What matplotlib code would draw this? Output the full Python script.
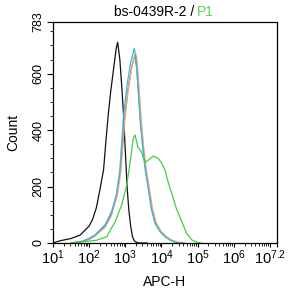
import numpy as np
import matplotlib.pyplot as plt
from matplotlib.ticker import FixedLocator, LogLocator, NullFormatter

plt.rcParams['font.family'] = ['Liberation Sans', 'DejaVu Sans']
plt.rcParams['mathtext.fontset'] = 'custom'
plt.rcParams['mathtext.rm'] = 'Liberation Sans'
plt.rcParams['mathtext.it'] = 'Liberation Sans'

# histogram outlines, x as log10(APC-H), y as count
black_x = [1.0, 1.2, 1.5, 1.75, 2.0, 2.1, 2.2, 2.3, 2.4, 2.47, 2.53, 2.6, 2.7, 2.75, 2.79,
           2.85, 2.9, 2.95, 3.0, 3.05, 3.1, 3.15, 3.2, 3.25, 3.3, 3.4, 3.6]
black_y = [0, 8, 16, 28, 60, 85, 125, 190, 260, 370, 455, 540, 640, 690, 711,
           650, 560, 460, 330, 200, 115, 60, 22, 8, 3, 0, 0]

blue_x = [1.5, 1.8, 2.0, 2.16, 2.44, 2.62, 2.76, 2.85, 2.95, 3.05, 3.15, 3.22, 3.25,
          3.3, 3.35, 3.41, 3.48, 3.55, 3.64, 3.72, 3.82, 3.96, 4.1, 4.24, 4.4, 4.6]
blue_y = [0, 5, 15, 28, 60, 105, 175, 260, 450, 560, 640, 675, 690,
          650, 560, 440, 340, 260, 190, 120, 70, 40, 22, 10, 2, 0]

orange_x = [1.5, 1.8, 2.0, 2.16, 2.44, 2.62, 2.78, 2.88, 2.99, 3.09, 3.19, 3.25, 3.29,
            3.33, 3.38, 3.44, 3.51, 3.58, 3.67, 3.75, 3.85, 3.99, 4.13, 4.27, 4.45, 4.65]
orange_y = [0, 4, 12, 24, 55, 98, 168, 255, 440, 550, 630, 662, 672,
            640, 555, 440, 340, 262, 192, 125, 74, 42, 24, 11, 3, 0]

gray_x = [1.5, 1.8, 2.0, 2.16, 2.44, 2.62, 2.76, 2.86, 2.97, 3.07, 3.17, 3.23, 3.27,
          3.31, 3.36, 3.42, 3.5, 3.57, 3.66, 3.74, 3.84, 3.98, 4.12, 4.26, 4.42, 4.62]
gray_y = [0, 6, 16, 28, 64, 111, 170, 250, 430, 540, 620, 650, 660,
          625, 545, 430, 330, 255, 185, 118, 70, 40, 22, 10, 2, 0]

green_x = [1.5, 1.9, 2.21, 2.49, 2.55, 2.72, 2.9, 3.04, 3.15, 3.22, 3.27, 3.35, 3.45,
           3.55, 3.65, 3.78, 3.91, 4.0, 4.1, 4.2, 4.3, 4.42, 4.55, 4.7, 4.85, 5.0, 5.1]
green_y = [0, 5, 10, 22, 38, 75, 135, 205, 300, 370, 383, 340, 322,
           285, 295, 308, 300, 285, 259, 210, 170, 120, 80, 34, 10, 2, 0]

x_decades = [1, 2, 3, 4, 5, 6, 7]
x_labels = ['1', '2', '3', '4', '5', '6', '7.2']
y_ticks = [0, 200, 400, 600, 783]

title_left = 'bs-0439R-2 /'
title_right = 'P1'

fig = plt.figure(figsize=(2.9, 2.96), dpi=100)
ax = fig.add_axes([53 / 290, 53 / 296, 224 / 290, 221 / 296])

ax.plot(10 ** np.array(black_x), black_y, color='#111111', lw=0.9)
ax.plot(10 ** np.array(gray_x), gray_y, color='#8a8a8a', lw=0.9)
ax.plot(10 ** np.array(orange_x), orange_y, color='#e8a47a', lw=0.9)
ax.plot(10 ** np.array(blue_x), blue_y, color='#3cb8dc', lw=0.9)
ax.plot(10 ** np.array(green_x), green_y, color='#44cc44', lw=0.9)

ax.set_xscale('log')
ax.set_xlim(10, 10 ** 7.2)
ax.set_ylim(0, 783)

ax.xaxis.set_major_locator(FixedLocator([10 ** v for v in x_decades] + [10 ** 7.2]))
ax.set_xticklabels(['$10^{%s}$' % s for s in x_labels] + [''])
ax.xaxis.set_minor_locator(LogLocator(base=10, subs=np.arange(2, 10), numticks=20))
ax.xaxis.set_minor_formatter(NullFormatter())

ax.set_yticks(y_ticks)
ax.set_yticks(np.arange(50, 783, 50), minor=True)
ax.set_yticklabels([str(v) for v in y_ticks], rotation=90, va='center')

ax.tick_params(which='major', direction='out', length=4, width=0.8, labelsize=9, pad=2)
ax.tick_params(axis='x', which='major', length=3, labelsize=10.5, pad=1)
ax.tick_params(which='minor', direction='out', length=2, width=0.6)
for s in ax.spines.values():
    s.set_linewidth(0.9)

ax.set_xlabel('APC-H', fontsize=10, labelpad=6)
ax.set_ylabel('Count', fontsize=10, labelpad=9)

fig.text(194 / 290, 284 / 296, title_left, ha='right', va='center', fontsize=10)
fig.text(197 / 290, 284 / 296, title_right, ha='left', va='center', fontsize=10, color='#5fd35f')

fig.savefig('out.png', dpi=100)
